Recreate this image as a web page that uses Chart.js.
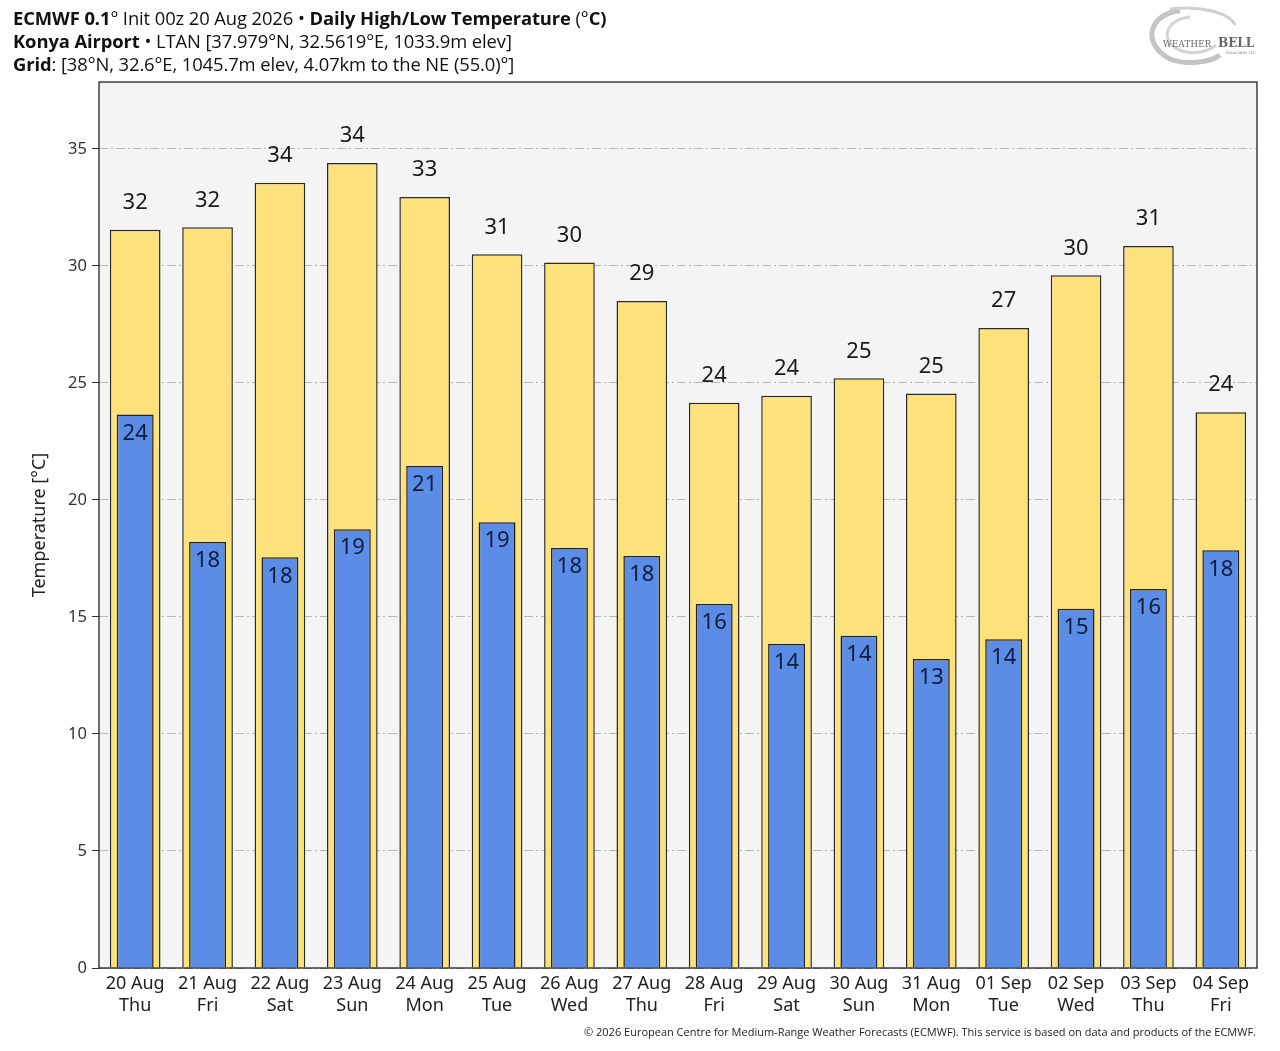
<!DOCTYPE html>
<html>
<head>
<meta charset="utf-8">
<script src="https://cdn.jsdelivr.net/npm/chart.js@4.4.1/dist/chart.umd.min.js"></script>
<style>
  html, body { margin: 0; padding: 0; background: #fff; }
  #wrap { position: relative; width: 1280px; height: 1051px; }
  #chart { position: absolute; left: 0; top: 0; }
  #title { position: absolute; left: 13px; top: 6px; font-family: "Open Sans", sans-serif; font-size: 18.4px; line-height: 23px; color: #111; letter-spacing: -0.1px; }
  #title b { font-weight: 700; }
  #footer { position: absolute; right: 24px; top: 1024px; font-family: "Open Sans", sans-serif; font-size: 11px; color: #222; }
  #logo { position: absolute; left: 1140px; top: 3px; }
</style>
</head>
<body>
<div id="wrap">
  <canvas id="chart" width="1280" height="1051"></canvas>
  <div id="title">
    <div><b>ECMWF 0.1</b>° Init 00z 20 Aug 2026 • <b>Daily High/Low Temperature</b> (°<b>C)</b></div>
    <div><b>Konya Airport</b> • LTAN [37.979°N, 32.5619°E, 1033.9m elev]</div>
    <div><b>Grid</b>: [38°N, 32.6°E, 1045.7m elev, 4.07km to the NE (55.0)°]</div>
  </div>
  <svg id="logo" width="125" height="65" viewBox="0 0 125 65">
    <path d="M40 8 C 10 10, 0 40, 30 56 C 45 62, 70 60, 80 52" fill="none" stroke="#c4c4c4" stroke-width="5"/>
    <path d="M50 14 C 25 16, 18 40, 42 48 C 55 52, 70 48, 76 42" fill="none" stroke="#d4d4d4" stroke-width="3"/>
    <path d="M30 6 C 60 2, 90 10, 95 22" fill="none" stroke="#d0d0d0" stroke-width="3"/>
    <text x="23" y="44" font-family="DejaVu Serif, serif" font-size="8.5" fill="#666" letter-spacing="0.3">WEATHER</text>
    <text x="78" y="44" font-family="DejaVu Serif, serif" font-size="12" fill="#666" font-weight="bold">BELL</text>
    <text x="86" y="51" font-family="DejaVu Sans, sans-serif" font-size="4" fill="#888">Associates LLC</text>
  </svg>
  <div id="footer">© 2026 European Centre for Medium-Range Weather Forecasts (ECMWF). This service is based on data and products of the ECMWF.</div>
</div>
<script>
// day labels, two lines each
const dates = ['20 Aug', '21 Aug', '22 Aug', '23 Aug', '24 Aug', '25 Aug', '26 Aug', '27 Aug',
               '28 Aug', '29 Aug', '30 Aug', '31 Aug', '01 Sep', '02 Sep', '03 Sep', '04 Sep'];
const weekdays = ['Thu', 'Fri', 'Sat', 'Sun', 'Mon', 'Tue', 'Wed', 'Thu',
                  'Fri', 'Sat', 'Sun', 'Mon', 'Tue', 'Wed', 'Thu', 'Fri'];

// daily high / low in degC
const highTemps = [31.55, 31.65, 33.55, 34.4, 32.95, 30.5, 30.15, 28.5,
                   24.15, 24.45, 25.2, 24.55, 27.35, 29.6, 30.85, 23.75];
const lowTemps = [23.65, 18.2, 17.55, 18.75, 21.45, 19.05, 17.95, 17.6,
                  15.55, 13.85, 14.2, 13.2, 14.05, 15.35, 16.2, 17.85];

const yTicks = [0, 5, 10, 15, 20, 25, 30, 35];

const labels = dates.map((d, i) => [d, weekdays[i]]);

// plot background + frame
const frame = {
    id: 'frame',
    beforeDraw(chart) {
        const { ctx, chartArea: a } = chart;
        ctx.save();
        ctx.fillStyle = '#f4f4f4';
        ctx.fillRect(a.left, a.top, a.right - a.left, a.bottom - a.top);
        ctx.restore();
    },
    afterDraw(chart) {
        const { ctx, chartArea: a } = chart;
        ctx.save();
        ctx.strokeStyle = '#111';
        ctx.lineWidth = 1.2;
        ctx.strokeRect(a.left, a.top, a.right - a.left, a.bottom - a.top);
        ctx.restore();
    }
};

// value labels: highs above the bar, lows just inside the top
const valueLabels = {
    id: 'valueLabels',
    afterDatasetsDraw(chart) {
        const ctx = chart.ctx;
        ctx.save();
        ctx.font = '22px "Noto Sans", sans-serif';
        ctx.textAlign = 'center';
        ctx.textBaseline = 'middle';
        chart.data.datasets.forEach((ds, di) => {
            const meta = chart.getDatasetMeta(di);
            meta.data.forEach((bar, i) => {
                const v = Math.round(ds.data[i]);
                if (ds.label === 'High') {
                    ctx.fillStyle = '#1a1a1a';
                    ctx.fillText(v, bar.x, bar.y - 27);
                } else {
                    ctx.fillStyle = '#0f1c3c';
                    ctx.fillText(v, bar.x, bar.y + 19);
                }
            });
        });
        ctx.restore();
    }
};

const ctx = document.getElementById('chart').getContext('2d');
new Chart(ctx, {
    type: 'bar',
    data: {
        labels: labels,
        datasets: [
            {
                label: 'Low',
                data: lowTemps,
                backgroundColor: '#5b8de6',
                borderColor: '#222',
                borderWidth: 1.5,
                grouped: false,
                barPercentage: 0.51,
                categoryPercentage: 1,
                order: 0
            },
            {
                label: 'High',
                data: highTemps,
                backgroundColor: '#fde27c',
                borderColor: '#2a2a2a',
                borderWidth: 1.5,
                grouped: false,
                barPercentage: 0.70,
                categoryPercentage: 1,
                order: 1
            }
        ]
    },
    options: {
        responsive: false,
        animation: false,
        devicePixelRatio: 1,
        layout: { padding: { left: 0, top: 82, right: 23, bottom: 0 } },
        plugins: {
            legend: { display: false },
            tooltip: { enabled: false }
        },
        scales: {
            x: {
                grid: { display: false },
                border: { display: false },
                ticks: {
                    color: '#222',
                    font: { family: '"Noto Sans", sans-serif', size: 18, lineHeight: 1.2 },
                    padding: -3,
                    maxRotation: 0,
                    autoSkip: false
                },
                afterFit(scale) { scale.height = 83; }
            },
            y: {
                min: 0,
                max: 37.86,
                afterBuildTicks(scale) {
                    scale.ticks = yTicks.map(v => ({ value: v }));
                },
                grid: {
                    color: '#b8b8b8',
                    lineWidth: 1,
                    tickLength: 7,
                    tickColor: '#333',
                    tickWidth: 1
                },
                border: { display: false, dash: [9, 3, 2, 3] },
                ticks: {
                    color: '#333',
                    font: { family: '"Noto Sans", sans-serif', size: 16.5 },
                    padding: 5
                },
                title: {
                    display: true,
                    text: 'Temperature [°C]',
                    color: '#222',
                    font: { family: '"Noto Sans", sans-serif', size: 18 },
                    padding: { top: 29, bottom: 0 }
                },
                afterFit(scale) { scale.width = 99; }
            }
        }
    },
    plugins: [frame, valueLabels]
});
</script>
</body>
</html>
